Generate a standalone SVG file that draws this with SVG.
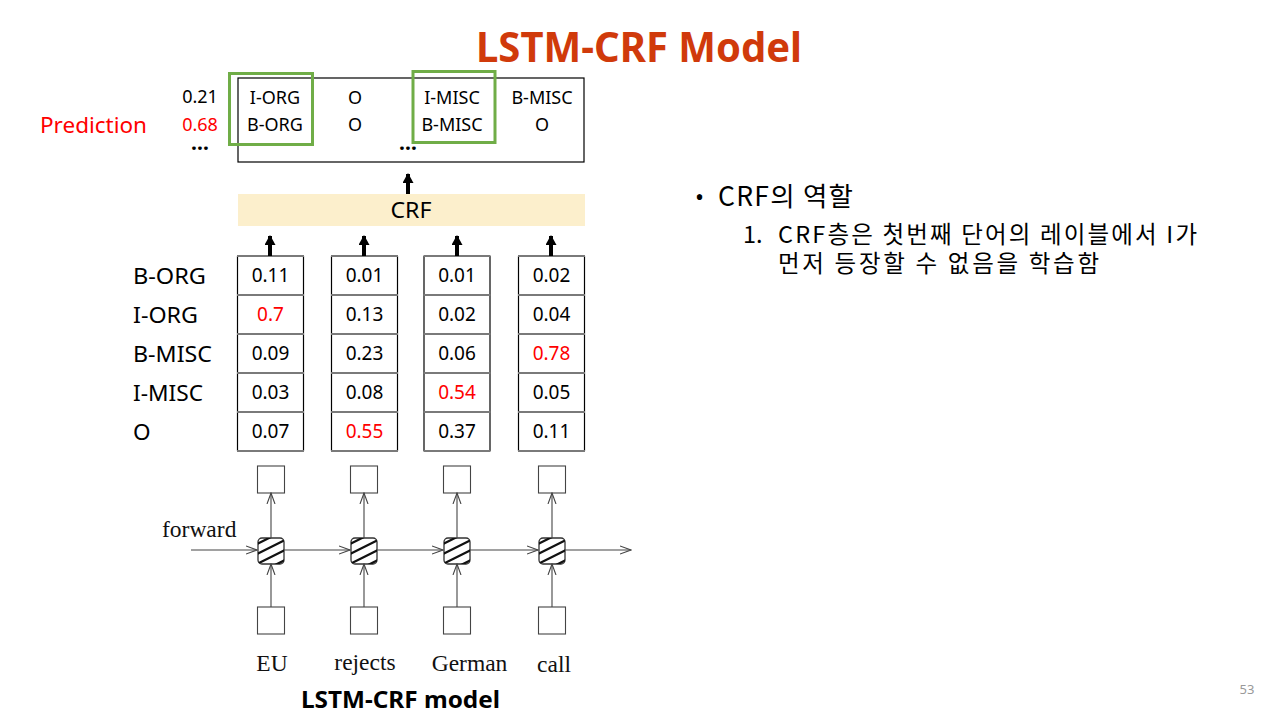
<svg xmlns="http://www.w3.org/2000/svg" width="1280" height="720" viewBox="0 0 1280 720">
  <defs>
    <style>
      .k { font-family: "Noto Sans", "Noto Sans CJK KR", sans-serif; fill: #000; }
      .kr { font-family: "Noto Sans CJK KR", "Noto Sans", sans-serif; fill: #000; }
      .red { fill: #FF0000; }
      .serif { font-family: "Liberation Serif", "DejaVu Serif", serif; fill: #111; font-size: 23.5px; }
      .cell { font-size: 19px; text-anchor: middle; }
      .lab { font-size: 22.5px; }
      .pred { font-size: 18px; text-anchor: middle; }
      .dots { font-size: 21px; font-weight: bold; text-anchor: middle; }
      .grid-v { stroke: #000; stroke-width: 1.2; }
      .grid-h { stroke: #7a7a7a; stroke-width: 2; }
      .thin { stroke: #444; stroke-width: 1.1; fill: none; }
      .box { stroke: #444; stroke-width: 1.1; fill: #fff; }
      .thick { stroke: #000; stroke-width: 4; }
      .green { fill: none; stroke: #70AD47; stroke-width: 3; }
    </style>
    <marker id="open" viewBox="0 0 12 10" refX="11" refY="5" markerWidth="12" markerHeight="10" markerUnits="userSpaceOnUse" orient="auto">
      <path d="M0,1 L11,5 L0,9" fill="none" stroke="#444" stroke-width="1.1"/>
    </marker>
    <marker id="solid" viewBox="0 0 10 11" refX="9" refY="5.5" markerWidth="11" markerHeight="11" markerUnits="userSpaceOnUse" orient="auto">
      <path d="M0,0 L10,5.5 L0,11 Z" fill="#000"/>
    </marker>
    <clipPath id="cellclip">
      <rect x="-13" y="-13" width="26" height="26" rx="4"/>
    </clipPath>
    <g id="lstm">
      <rect x="-13" y="-13" width="26" height="26" rx="4" fill="#fff" stroke="#333" stroke-width="1.3"/>
      <g clip-path="url(#cellclip)" stroke="#111" stroke-width="2.2">
        <line x1="-16" y1="-6" x2="12" y2="-20"/>
        <line x1="-16" y1="4" x2="16" y2="-12"/>
        <line x1="-16" y1="14" x2="16" y2="-2"/>
        <line x1="-8" y1="20" x2="16" y2="8"/>
      </g>
    </g>
  </defs>

  <rect width="1280" height="720" fill="#fff"/>

  <!-- slide title -->
  <text x="639" y="62" font-family="Noto Sans, Noto Sans CJK KR, sans-serif" font-weight="bold" font-size="40.5" fill="#D03A0B" text-anchor="middle" textLength="326" lengthAdjust="spacingAndGlyphs">LSTM-CRF Model</text>

  <!-- prediction panel -->
  <g id="prediction">
    <rect x="238" y="78" width="346" height="84" fill="#fff" stroke="#000" stroke-width="1.2"/>
    <text class="k" x="40" y="133" font-size="22" style="fill:#FF0000" textLength="107" lengthAdjust="spacingAndGlyphs">Prediction</text>
    <text class="k pred" x="200" y="103">0.21</text>
    <text class="k pred red" x="200" y="131">0.68</text>
    <text class="k dots" x="200" y="150">…</text>
    <text class="k pred" x="275" y="104">I-ORG</text>
    <text class="k pred" x="275" y="131">B-ORG</text>
    <text class="k pred" x="355" y="104">O</text>
    <text class="k pred" x="355" y="131">O</text>
    <text class="k pred" x="452" y="104">I-MISC</text>
    <text class="k pred" x="452" y="131">B-MISC</text>
    <text class="k pred" x="542" y="104">B-MISC</text>
    <text class="k pred" x="542" y="131">O</text>
    <text class="k dots" x="408" y="150">…</text>
    <rect class="green" x="229.5" y="73.5" width="83" height="71"/>
    <rect class="green" x="413" y="71.5" width="82" height="71"/>
  </g>

  <!-- CRF layer -->
  <g id="crf">
    <rect x="238" y="194" width="347" height="32" fill="#FCEFCC"/>
    <text class="k" x="411" y="218" font-size="21" text-anchor="middle" textLength="41" lengthAdjust="spacingAndGlyphs">CRF</text>
  </g>

  <!-- tag labels -->
  <g id="tags">
    <text class="k lab" x="133" y="284" textLength="73" lengthAdjust="spacingAndGlyphs">B-ORG</text>
    <text class="k lab" x="133" y="323" textLength="65" lengthAdjust="spacingAndGlyphs">I-ORG</text>
    <text class="k lab" x="133" y="362" textLength="79" lengthAdjust="spacingAndGlyphs">B-MISC</text>
    <text class="k lab" x="133" y="401" textLength="70" lengthAdjust="spacingAndGlyphs">I-MISC</text>
    <text class="k lab" x="133" y="440">O</text>
  </g>

  <!-- score columns -->
  <g id="col-eu">
    <line class="grid-v" x1="237.5" y1="256" x2="237.5" y2="451"/>
    <line class="grid-v" x1="303.5" y1="256" x2="303.5" y2="451"/>
    <g class="grid-h"><line x1="237" y1="256" x2="304" y2="256"/><line x1="237" y1="295" x2="304" y2="295"/><line x1="237" y1="334" x2="304" y2="334"/><line x1="237" y1="373" x2="304" y2="373"/><line x1="237" y1="412" x2="304" y2="412"/><line x1="237" y1="451" x2="304" y2="451"/></g>
    <text class="k cell" x="270.5" y="282">0.11</text>
    <text class="k cell red" x="270.5" y="321">0.7</text>
    <text class="k cell" x="270.5" y="360">0.09</text>
    <text class="k cell" x="270.5" y="399">0.03</text>
    <text class="k cell" x="270.5" y="438">0.07</text>
  </g>
  <g id="col-rejects">
    <line class="grid-v" x1="331.5" y1="256" x2="331.5" y2="451"/>
    <line class="grid-v" x1="397.5" y1="256" x2="397.5" y2="451"/>
    <g class="grid-h"><line x1="331" y1="256" x2="398" y2="256"/><line x1="331" y1="295" x2="398" y2="295"/><line x1="331" y1="334" x2="398" y2="334"/><line x1="331" y1="373" x2="398" y2="373"/><line x1="331" y1="412" x2="398" y2="412"/><line x1="331" y1="451" x2="398" y2="451"/></g>
    <text class="k cell" x="364.5" y="282">0.01</text>
    <text class="k cell" x="364.5" y="321">0.13</text>
    <text class="k cell" x="364.5" y="360">0.23</text>
    <text class="k cell" x="364.5" y="399">0.08</text>
    <text class="k cell red" x="364.5" y="438">0.55</text>
  </g>
  <g id="col-german">
    <line class="grid-v" x1="424" y1="256" x2="424" y2="451"/>
    <line class="grid-v" x1="490" y1="256" x2="490" y2="451"/>
    <g class="grid-h"><line x1="423.5" y1="256" x2="490.5" y2="256"/><line x1="423.5" y1="295" x2="490.5" y2="295"/><line x1="423.5" y1="334" x2="490.5" y2="334"/><line x1="423.5" y1="373" x2="490.5" y2="373"/><line x1="423.5" y1="412" x2="490.5" y2="412"/><line x1="423.5" y1="451" x2="490.5" y2="451"/></g>
    <text class="k cell" x="457" y="282">0.01</text>
    <text class="k cell" x="457" y="321">0.02</text>
    <text class="k cell" x="457" y="360">0.06</text>
    <text class="k cell red" x="457" y="399">0.54</text>
    <text class="k cell" x="457" y="438">0.37</text>
  </g>
  <g id="col-call">
    <line class="grid-v" x1="518.5" y1="256" x2="518.5" y2="451"/>
    <line class="grid-v" x1="584.5" y1="256" x2="584.5" y2="451"/>
    <g class="grid-h"><line x1="518" y1="256" x2="585" y2="256"/><line x1="518" y1="295" x2="585" y2="295"/><line x1="518" y1="334" x2="585" y2="334"/><line x1="518" y1="373" x2="585" y2="373"/><line x1="518" y1="412" x2="585" y2="412"/><line x1="518" y1="451" x2="585" y2="451"/></g>
    <text class="k cell" x="551.5" y="282">0.02</text>
    <text class="k cell" x="551.5" y="321">0.04</text>
    <text class="k cell red" x="551.5" y="360">0.78</text>
    <text class="k cell" x="551.5" y="399">0.05</text>
    <text class="k cell" x="551.5" y="438">0.11</text>
  </g>

  <!-- LSTM boxes -->
  <g id="lstm-eu">
    <rect class="box" x="257.5" y="466" width="27" height="27"/>
    <use href="#lstm" x="271" y="551"/>
    <rect class="box" x="257.5" y="607" width="27" height="27"/>
  </g>
  <g id="lstm-rejects">
    <rect class="box" x="350.5" y="466" width="27" height="27"/>
    <use href="#lstm" x="364" y="551"/>
    <rect class="box" x="350.5" y="607" width="27" height="27"/>
  </g>
  <g id="lstm-german">
    <rect class="box" x="443.5" y="466" width="27" height="27"/>
    <use href="#lstm" x="457" y="551"/>
    <rect class="box" x="443.5" y="607" width="27" height="27"/>
  </g>
  <g id="lstm-call">
    <rect class="box" x="538.5" y="466" width="27" height="27"/>
    <use href="#lstm" x="552" y="551"/>
    <rect class="box" x="538.5" y="607" width="27" height="27"/>
  </g>

  <!-- connectors -->
  <g id="connectors">
    <line class="thick" x1="408" y1="194" x2="408" y2="174" marker-end="url(#solid)"/>
    <line class="thick" x1="270" y1="256" x2="270" y2="236" marker-end="url(#solid)"/>
    <line class="thick" x1="364" y1="256" x2="364" y2="236" marker-end="url(#solid)"/>
    <line class="thick" x1="457" y1="256" x2="457" y2="236" marker-end="url(#solid)"/>
    <line class="thick" x1="551" y1="256" x2="551" y2="236" marker-end="url(#solid)"/>

    <line class="thin" x1="191" y1="550" x2="257" y2="550" marker-end="url(#open)"/>
    <line class="thin" x1="284" y1="550" x2="350" y2="550" marker-end="url(#open)"/>
    <line class="thin" x1="377" y1="550" x2="443" y2="550" marker-end="url(#open)"/>
    <line class="thin" x1="470" y1="550" x2="538" y2="550" marker-end="url(#open)"/>
    <line class="thin" x1="565" y1="550" x2="631" y2="550" marker-end="url(#open)"/>

    <line class="thin" x1="271" y1="538" x2="271" y2="493" marker-end="url(#open)"/>
    <line class="thin" x1="364" y1="538" x2="364" y2="493" marker-end="url(#open)"/>
    <line class="thin" x1="457" y1="538" x2="457" y2="493" marker-end="url(#open)"/>
    <line class="thin" x1="552" y1="538" x2="552" y2="493" marker-end="url(#open)"/>

    <line class="thin" x1="271" y1="607" x2="271" y2="564" marker-end="url(#open)"/>
    <line class="thin" x1="364" y1="607" x2="364" y2="564" marker-end="url(#open)"/>
    <line class="thin" x1="457" y1="607" x2="457" y2="564" marker-end="url(#open)"/>
    <line class="thin" x1="552" y1="607" x2="552" y2="564" marker-end="url(#open)"/>
  </g>

  <!-- words -->
  <g id="words">
    <text class="serif" x="162" y="537">forward</text>
    <text class="serif" x="272" y="671" text-anchor="middle">EU</text>
    <text class="serif" x="365" y="670" text-anchor="middle">rejects</text>
    <text class="serif" x="469.5" y="671" text-anchor="middle">German</text>
    <text class="serif" x="554" y="672" text-anchor="middle">call</text>
  </g>

  <text class="k" x="301" y="708" font-size="23" font-weight="bold" textLength="199" lengthAdjust="spacingAndGlyphs">LSTM-CRF model</text>

  <!-- notes -->
  <g id="notes">
    <text class="k" x="695" y="206" font-size="24">•</text>
    <text class="kr" x="718" y="206" font-size="26.5" textLength="135">CRF의 역할</text>
    <text class="kr" x="743" y="243" font-size="23.5">1.</text>
    <text class="kr" x="778" y="243" font-size="23.5" textLength="419">CRF층은 첫번째 단어의 레이블에서 I가</text>
    <text class="kr" x="778" y="272" font-size="23.5" textLength="321">먼저 등장할 수 없음을 학습함</text>
  </g>

  <text x="1247" y="694" font-family="Noto Sans, sans-serif" font-size="13" fill="#999" text-anchor="middle">53</text>
</svg>
